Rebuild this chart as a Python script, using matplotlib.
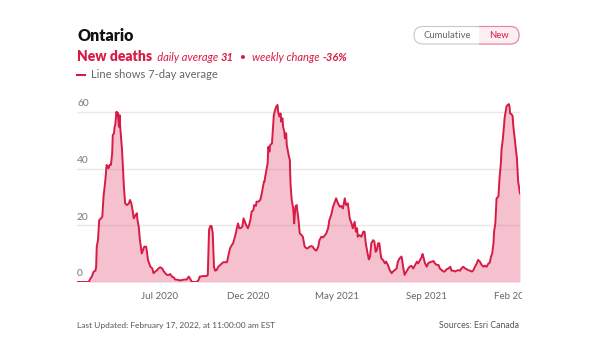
import pandas as pd
import matplotlib
matplotlib.use("Agg")
import matplotlib.pyplot as plt
from matplotlib.patches import FancyBboxPatch, Rectangle
from matplotlib.transforms import Bbox

plt.rcParams['font.family'] = ['Lato', 'DejaVu Sans']

# 7-day average of new deaths, day offsets from start_date
start_date = "2020-03-01"
day_offsets = [
    0, 19, 22, 24, 27, 30, 31, 32, 34, 36,
    39, 41, 43, 46, 48, 50, 51, 53, 55, 57,
    58, 60, 61, 62, 64, 65, 66, 68, 69, 70,
    73, 75, 76, 78, 81, 84, 86, 88, 90, 92,
    95, 97, 98, 100, 102, 105, 107, 109, 112, 113,
    115, 117, 119, 122, 124, 127, 130, 132, 135, 138,
    140, 143, 146, 149, 151, 154, 157, 159, 165, 167,
    170, 176, 178,
    181, 183, 186, 189, 194, 197, 199, 205, 210, 212,
    214, 216, 218, 220, 222, 224, 226, 229, 232, 235,
    237, 240, 243, 245, 248, 251, 253, 256, 258, 259,
    261, 263, 265, 268, 270, 272, 274, 277, 279, 281,
    283, 286, 287, 290, 291, 294, 297, 299, 301, 303,
    304, 305, 307, 309, 310, 312, 313, 316, 318, 319,
    321, 323, 325, 326, 328, 330, 331, 333, 334, 336,
    337, 339, 340, 343, 345, 346, 348, 350, 351, 352,
    354, 356, 357, 359, 361,
    364, 366, 369, 372, 374, 377, 380, 382, 385, 388,
    391, 393, 396, 399, 401, 404, 407, 409, 412, 415,
    418, 420, 423, 426, 428, 431, 434, 436, 439, 442,
    445, 447, 450, 452, 454, 455, 458, 461, 464, 466,
    468, 471, 473, 475, 477, 480, 482, 484, 486, 488,
    490, 492, 493, 496, 499, 501, 504, 507, 510, 512,
    515, 518, 520, 523, 526, 527, 529, 531, 534, 537,
    539, 542, 545,
    548, 551, 553, 556, 559, 560, 562, 564, 567, 569,
    572, 575, 578, 580, 583, 586, 588, 591, 594, 596,
    599, 602, 605, 607, 610, 613, 615, 618, 621, 623,
    626, 629, 632, 634, 637, 640, 642, 645, 648, 650,
    653, 656, 659, 661, 664, 667, 669, 671, 673, 675,
    676, 678, 680, 683, 685, 687, 688, 690, 692, 693,
    695, 696, 698, 700, 701, 702, 704, 706, 707, 710,
    713, 715, 718,
]
deaths_avg = [
    0, 0, 1.3, 1.9, 3.7, 4.0, 5.4, 12.5, 14.8, 21.9,
    22.5, 23.1, 30.2, 36.1, 41.4, 40.8, 40.2, 41.4, 41.4, 45.5,
    52.0, 52.6, 54.9, 55.5, 60.2, 59.0, 59.9, 54.9, 59.0, 54.9,
    46.7, 38.4, 33.7, 27.8, 27.2, 27.8, 29.0, 27.8, 25.5, 22.5,
    23.7, 24.3, 21.9, 19.6, 14.8, 10.1, 11.3, 12.5, 12.5, 11.3,
    7.8, 6.6, 5.4, 4.8, 3.1, 3.7, 4.2, 4.8, 5.2, 4.8,
    4.0, 3.1, 2.5, 2.5, 2.8, 1.9, 1.6, 0.9, 0.7, 0.5,
    0.7, 0.9, 0.9,
    1.9, 1.3, 0.1, 0, 0, 0.7, 1.9, 2.1, 2.1, 2.5,
    18.4, 19.8, 19.8, 17.2, 5.4, 4.0, 4.2, 5.4, 6.0, 6.6,
    7.0, 7.0, 7.0, 9.0, 11.9, 13.1, 13.7, 16.0, 17.8, 19.0,
    20.7, 19.0, 19.0, 19.6, 22.5, 21.3, 20.2, 19.0, 20.2, 21.9,
    24.9, 25.5, 27.2, 26.9, 28.4, 28.4, 29.0, 30.8, 33.1, 35.5,
    35.5, 37.2, 39.6, 42.0, 47.8, 46.1, 48.4, 49.0, 55.5, 59.0,
    60.8, 62.0, 62.6, 60.2, 58.5, 59.6, 56.7, 57.9, 54.9, 53.2,
    50.8, 52.6, 48.4, 44.9, 43.1, 34.9, 29.0, 26.6, 24.3, 20.7,
    26.6, 27.2, 25.5, 21.9, 17.2,
    16.6, 16.0, 12.5, 11.9, 11.9, 12.5, 12.7, 12.5, 11.5, 11.1,
    12.5, 14.8, 16.0, 15.8, 16.3, 17.2, 19.0, 21.9, 23.7, 26.6,
    28.4, 29.6, 27.8, 26.6, 26.9, 26.0, 29.6, 27.2, 27.8, 22.5,
    20.7, 19.0, 21.3, 17.8, 19.0, 16.0, 16.6, 16.0, 17.8, 17.8,
    13.7, 10.1, 8.0, 9.0, 13.7, 14.8, 14.3, 10.7, 11.3, 13.7,
    13.7, 10.1, 8.4, 7.8, 6.6, 7.2, 6.0, 4.2, 3.1, 3.7,
    4.2, 4.8, 7.2, 8.4, 9.0, 7.8, 4.8, 2.5, 3.7, 4.8,
    5.4, 5.7, 4.8,
    6.0, 7.2, 6.6, 7.8, 9.0, 9.9, 8.4, 6.6, 5.4, 6.6,
    7.0, 7.2, 7.4, 6.6, 6.0, 6.0, 4.8, 4.2, 3.7, 3.7,
    4.5, 4.8, 5.4, 4.0, 4.0, 3.7, 4.0, 4.2, 4.0, 4.8,
    5.4, 4.8, 4.5, 4.2, 4.0, 3.7, 4.0, 5.4, 6.6, 7.8,
    7.2, 6.0, 5.4, 5.8, 5.4, 6.6, 6.8, 9.0, 10.1, 13.7,
    17.8, 20.7, 29.6, 30.2, 37.2, 42.0, 46.7, 50.2, 54.9, 57.9,
    60.8, 62.0, 62.6, 62.9, 62.0, 59.6, 59.4, 58.7, 55.5, 49.6,
    43.7, 35.5, 31.3,
]

y_ticks = [0, 20, 40, 60]
x_tick_dates = ["2020-07-12", "2020-12-03", "2021-04-26", "2021-09-18", "2022-02-09"]
x_tick_labels = ["Jul 2020", "Dec 2020", "May 2021", "Sep 2021", "Feb 2022"]

red = "#d81b45"
gray = "#666666"

dates = pd.Timestamp(start_date) + pd.to_timedelta(day_offsets, unit="D")

W, H = 616, 351
fig = plt.figure(figsize=(W / 100, H / 100), dpi=100)
ax = fig.add_axes([77 / W, 1 - 282 / H, 443 / W, 181 / H])

ax.fill_between(dates, deaths_avg, 0, color="#e0335f", alpha=0.3, lw=0, zorder=2)
ax.plot(dates, deaths_avg, color=red, lw=1.4, zorder=3)

ax.set_xlim(dates[0], dates[-1])
ax.set_ylim(0, 64)
ax.set_yticks(y_ticks)
ax.grid(axis="y", color="#e9e9e9", lw=1, zorder=1)
ax.tick_params(axis="y", length=0, labelleft=False)
for v in y_ticks:
    ax.annotate(str(v), xy=(0, v), xycoords=("axes fraction", "data"),
                xytext=(0, 6), textcoords="offset points",
                ha="left", va="center", fontsize=7.3, color="#777777")

ax.set_xticks(pd.to_datetime(x_tick_dates))
ax.set_xticklabels(x_tick_labels)
ax.tick_params(axis="x", length=0, pad=7, labelsize=7, labelcolor=gray)
for s in ax.spines.values():
    s.set_visible(False)

# clip last label like the reference
clip = Bbox.from_extents(0, 0, 522, H)
for lbl in ax.get_xticklabels():
    lbl.set_clip_box(clip)
    lbl.set_clip_on(True)

# overlay in pixel coordinates for header / footer
ov = fig.add_axes([0, 0, 1, 1])
ov.set_xlim(0, W)
ov.set_ylim(H, 0)
ov.axis("off")
ov.patch.set_alpha(0)

ov.text(77, 36, "Ontario", fontsize=11.5, fontweight="heavy", color="#111111", va="center")

renderer = fig.canvas.get_renderer()
x = 77
pieces = [
    ("New deaths", dict(fontsize=10, fontweight="heavy")),
    ("  daily average ", dict(fontsize=8, fontstyle="italic")),
    ("31", dict(fontsize=8, fontstyle="italic", fontweight="bold")),
    ("  \u2022  ", dict(fontsize=8)),
    ("weekly change ", dict(fontsize=8, fontstyle="italic")),
    ("-36%", dict(fontsize=8, fontstyle="italic", fontweight="bold")),
]
for txt, kw in pieces:
    t = ov.text(x, 61, txt, color=red, va="baseline", **kw)
    x += t.get_window_extent(renderer).width

ov.plot([77, 85], [74.5, 74.5], color=red, lw=1.5)
ov.text(91, 74.5, "Line shows 7-day average", fontsize=8, color=gray, va="center")

# toggle
pill = FancyBboxPatch((414, 26.5), 105, 17.5, boxstyle="round,pad=0,rounding_size=8.75",
                      fc="white", ec="#c8c8c8", lw=0.8)
ov.add_patch(pill)
pink = FancyBboxPatch((414, 26.5), 105, 17.5, boxstyle="round,pad=0,rounding_size=8.75",
                      fc="#fdeef2", ec="#e8849c", lw=0.8)
ov.add_patch(pink)
pink.set_clip_path(Rectangle((479, 20), 50, 30, transform=ov.transData))
ov.text(447, 35.5, "Cumulative", fontsize=6.8, color=gray, ha="center", va="center")
ov.text(499, 35.5, "New", fontsize=6.8, color=red, ha="center", va="center")

ov.text(77, 325, "Last Updated: February 17, 2022, at 11:00:00 am EST",
        fontsize=6.0, color="#555555", va="center")
ov.text(519, 325, "Sources: Esri Canada", fontsize=6.3, color="#555555",
        va="center", ha="right")

fig.savefig("out.png", dpi=100)
